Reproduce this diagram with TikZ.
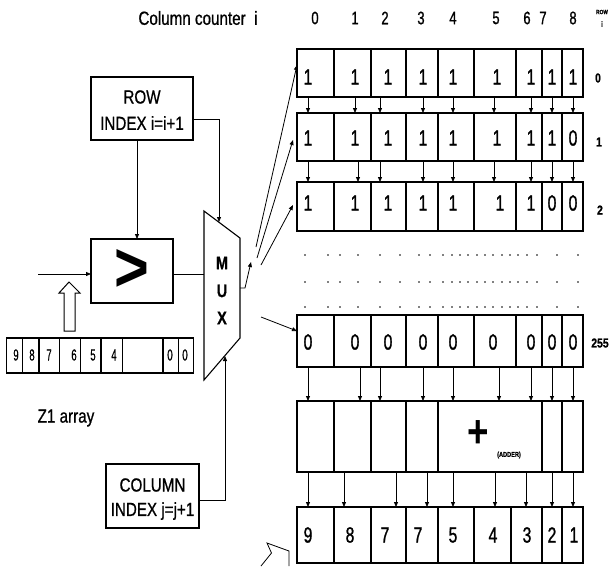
\documentclass[tikz,border=0pt]{standalone}
\usepackage{fontspec}
\setmainfont{Liberation Sans}
\newfontfamily\nar[FakeStretch=0.8,FakeBold=0.8]{Liberation Sans}
\newfontfamily\cnar[FakeStretch=0.72,FakeBold=1]{Liberation Sans}
\newfontfamily\vnar[FakeStretch=0.6,FakeBold=0.5]{Liberation Sans}
\usetikzlibrary{arrows.meta}
\newcommand\fsz[1]{\fontsize{#1}{#1}\selectfont}
\begin{document}
\begin{tikzpicture}[x=1pt,y=-1pt,
  box/.style={draw, line width=1.1pt, inner sep=0pt, outer sep=0pt, anchor=north west},
  arr/.style={-{Triangle[length=5pt,width=4pt]}, line width=0.8pt},
  ln/.style={line width=0.8pt},
  txt/.style={inner sep=0pt, font=\nar\fsz{19}},
  cell/.style={inner sep=0pt, font=\cnar\fsz{22}},
  hdr/.style={inner sep=0pt, font=\cnar\fsz{18}},
  rlab/.style={inner sep=0pt, font=\nar\bfseries\fsz{13}},
  zcell/.style={inner sep=0pt, font=\vnar\fsz{16}}]
\useasboundingbox (0,0) rectangle (610,566);

% ---------- header ----------
\node[txt] (title) at (198,18) {Column counter\ \ i};
\foreach \x/\d [count=\k] in {315/0,355/1,385/2,421/3,453/4,496/5,527/6,543/7,573/8}
  \node[hdr] (h\k) at (\x,18) {\d};
\node[inner sep=0pt, font=\nar\bfseries\fsz{6}] (rowhdr) at (602,12) {ROW};
\node[inner sep=0pt, font=\nar\bfseries\fsz{8}] (ihdr) at (602,24) {i};

% ---------- rows ----------
\node[box, minimum width=286pt, minimum height=48pt] (r0) at (297,49) {};
\node[box, minimum width=286pt, minimum height=48pt] (r1) at (297,113) {};
\node[box, minimum width=286pt, minimum height=49pt] (r2) at (297,182) {};
\node[box, minimum width=286pt, minimum height=52pt] (r255) at (297,315) {};
\node[box, minimum width=286pt, minimum height=71pt] (adder) at (297,401) {};
\node[box, minimum width=286pt, minimum height=56pt] (out) at (297,507) {};

\foreach \x in {334,371,406,438,474,516,542,562} {
  \draw[line width=1.1pt] (\x,49) -- (\x,97);
  \draw[line width=1.1pt] (\x,113) -- (\x,161);
  \draw[line width=1.1pt] (\x,182) -- (\x,231);
  \draw[line width=1.1pt] (\x,315) -- (\x,367);
}
\foreach \x in {334,371,406,438,542,562}
  \draw[line width=1.1pt] (\x,401) -- (\x,472);
\foreach \x in {334,371,406,438,474,511,542,562}
  \draw[line width=1.1pt] (\x,507) -- (\x,563);

% cell values
\foreach \x/\d [count=\k] in {308/1,355/1,388/1,423/1,453/1,497/1,531/1,552/1,573/1}
  \node[cell] (a\k) at (\x,77) {\d};
\foreach \x/\d [count=\k] in {308/1,355/1,388/1,423/1,453/1,497/1,531/1,552/1,573/0}
  \node[cell] (b\k) at (\x,138) {\d};
\foreach \x/\d [count=\k] in {308/1,355/1,388/1,423/1,453/1,500/1,531/1,552/0,573/0}
  \node[cell] (c\k) at (\x,203) {\d};
\foreach \x/\d [count=\k] in {308/0,355/0,388/0,423/0,453/0,493/0,531/0,552/0,573/0}
  \node[cell] (d\k) at (\x,342) {\d};
\foreach \x/\d [count=\k] in {308/9,350/8,385/7,418/7,453/5,493/4,527/3,552/2,574/1}
  \node[cell] (e\k) at (\x,535) {\d};

% row labels
\node[rlab] (l0) at (598,78) {0};
\node[rlab] (l1) at (599,142) {1};
\node[rlab] (l2) at (600,210) {2};
\node[rlab] (l255) at (600,343) {255};

% vertical arrows between rows
\foreach \x in {308,355,380,423,453,494,531,552,573}
  \draw[arr] (\x,97) -- (\x,113);
\foreach \x in {308,358,380,423,453,494,531,552,573}
  \draw[arr] (\x,161) -- (\x,182);
\foreach \x in {308,360,380,423,453,499,531,552,573}
  \draw[arr] (\x,367) -- (\x,401);
\foreach \x in {308,344,396,427,453,495,526,552,573}
  \draw[arr] (\x,472) -- (\x,507);

% dots
\foreach \y in {255,282,307}
  \foreach \x in {305,328,340,358,380,400,419,430,443,452,460,468,477,485,493,502,510,518,527,537,557,578}
    \fill (\x,\y) circle (0.9);

% adder label
\node[inner sep=0pt, font=\bfseries\fsz{46}, xscale=0.8] (plus) at (478,434) {+};
\node[inner sep=0pt, font=\nar\bfseries\fsz{7}] (addlab) at (509,455) {(ADDER)};

% ---------- left side ----------
\node[box, minimum width=102pt, minimum height=63pt] (rowidx) at (91,77) {};
\node[txt] (rowt1) at (142,97) {ROW};
\node[txt] (rowt2) at (142,123) {INDEX i=i+1};

\node[box, minimum width=82pt, minimum height=64pt] (comp) at (91,239) {};
\node[inner sep=0pt, font=\bfseries\fsz{70}, xscale=0.85] (gt) at (132,270) {>};

\draw[line width=1.1pt] (204,211) coordinate (mtl) -- (240,238) coordinate (mtr)
  -- (240,338) coordinate (mbr) -- (204,380) coordinate (mbl) -- cycle;
\node[inner sep=0pt, font=\nar\bfseries\fsz{18}] (mM) at (222,263) {M};
\node[inner sep=0pt, font=\nar\bfseries\fsz{18}] (mU) at (222,291) {U};
\node[inner sep=0pt, font=\nar\bfseries\fsz{18}] (mX) at (222,318) {X};

\node[box, minimum width=93pt, minimum height=64pt] (colidx) at (106,464) {};
\node[txt] (colt1) at (152.5,485) {COLUMN};
\node[txt] (colt2) at (152.5,511) {INDEX j=j+1};

% Z1 array
\node[box, minimum width=186.5pt, minimum height=35pt] (z1) at (6.7,338) {};
\foreach \x in {22.7,39,59.7,80.7,101,122.3,163,178.3}
  \draw[line width=1.1pt] (\x,338) -- (\x,373);
\foreach \x/\d [count=\k] in {16/9,32/8,49/7,74/6,93/5,114/4,170/0,185/0}
  \node[zcell] (z\k) at (\x,355) {\d};
\node[txt] (z1lab) at (66,418) {Z1 array};

% hollow arrow
\draw[line width=1pt, fill=white] (64,331) -- (64,293) -- (59,293) -- (69,282)
  -- (80,293) -- (75,293) -- (75,331) -- cycle;

% connectors
\draw[arr] (137,140) -- (137,239);
\draw[arr] (193,119) -- (219,119) -- (219,222);
\coordinate (inp) at (38,274);
\draw[arr] (inp) -- (91,274);
\draw[ln] (173,274) -- (204,274);
\draw[arr] (199,500) -- (225,500) -- (225,356);
\draw[arr] (240,288) -- (245,288) -- (251,262);
\draw[arr] (256,247) -- (297,65);
\draw[arr] (257,258) -- (293,140);
\draw[arr] (261,265) -- (293,205);
\draw[arr] (261,317) -- (297,331);

% fragment at bottom
\draw[ln] (261,566) -- (271.5,553) -- (267,543) -- (289,551) -- (289,566);
\end{tikzpicture}
\end{document}
